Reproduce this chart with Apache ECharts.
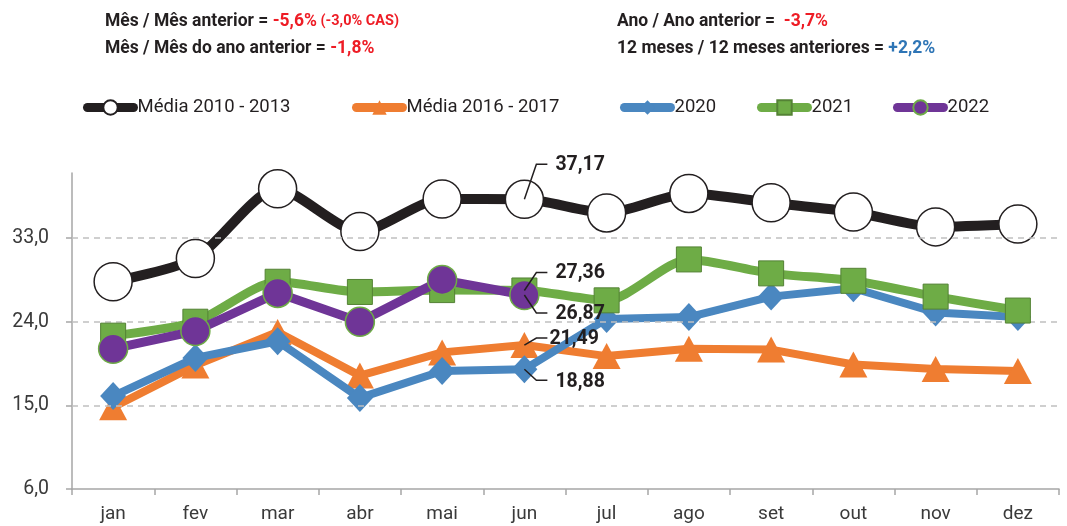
<!DOCTYPE html>
<html><head><meta charset="utf-8">
<script src="https://cdn.jsdelivr.net/npm/echarts@6/dist/echarts.min.js"></script>
<style>html,body{margin:0;padding:0;background:#fff}#c{width:1067px;height:526px}</style>
</head><body><div id="c"></div>
<script>
const months = ['jan','fev','mar','abr','mai','jun','jul','ago','set','out','nov','dez'];
const media1013 = [28.3, 30.8, 38.3, 33.7, 37.2, 37.17, 35.7, 37.8, 36.8, 35.8, 34.2, 34.5];
const media1617 = [14.8, 19.3, 22.9, 18.2, 20.7, 21.49, 20.3, 21.1, 21.0, 19.4, 18.9, 18.7];
const s2020 = [16.0, 20.1, 21.9, 15.8, 18.7, 18.88, 24.3, 24.5, 26.7, 27.6, 25.0, 24.5];
const s2021 = [22.5, 24.0, 28.3, 27.2, 27.4, 27.36, 26.3, 30.7, 29.2, 28.4, 26.7, 25.2];
const s2022 = [21.1, 23.0, 27.1, 24.0, 28.5, 26.87];
const yTicks = [6, 15, 24, 33];
const gridValues = [15, 24, 33];
const seriesNames = ['Média 2010 - 2013', 'Média 2016 - 2017', '2020', '2021', '2022'];
const seriesColors = ['#231f20', '#ef7d31', '#4a87c0', '#6eac46', '#6f3597'];

const FONT = "'Roboto', sans-serif";
const TXT = '#231f20';
const fmt = v => v.toFixed(2).replace('.', ',');

const chart = echarts.init(document.getElementById('c'), null, {renderer: 'canvas'});

const legendLefts = [83, 352, 620, 757, 893];
const legends = seriesNames.map((n, i) => ({
  data: [n], left: legendLefts[i], top: 98, padding: 0, itemWidth: 46, itemHeight: 18, itemGap: 0,
  lineStyle: {width: 9, cap: 'round', color: seriesColors[i]},
  textStyle: {fontFamily: FONT, fontSize: 18.5, color: TXT, padding: [0, 0, 0, -1]}
}));

const option = {
  animation: false,
  textStyle: {fontFamily: FONT},
  grid: {left: 72, right: 8, top: 173, bottom: 37, containLabel: false},
  title: [
    {left: 105, top: 8, padding: 0, text: '{b|Mês / Mês anterior = }{r|-5,6%}{rs| (-3,0% CAS)}\n{b|Mês / Mês do ano anterior = }{r|-1,8%}',
     textStyle: {rich: {
       b: {fontFamily: FONT, fontWeight: 'bold', fontSize: 17.5, color: TXT, lineHeight: 27},
       r: {fontFamily: FONT, fontWeight: 'bold', fontSize: 17.5, color: '#ee1c25', lineHeight: 27},
       rs: {fontFamily: FONT, fontWeight: 'bold', fontSize: 14.5, color: '#ee1c25', lineHeight: 27}
     }}},
    {left: 617, top: 8, padding: 0, text: '{b|Ano / Ano anterior = }{r| -3,7%}\n{b|12 meses / 12 meses anteriores = }{u|+2,2%}',
     textStyle: {rich: {
       b: {fontFamily: FONT, fontWeight: 'bold', fontSize: 17.5, color: TXT, lineHeight: 27},
       r: {fontFamily: FONT, fontWeight: 'bold', fontSize: 17.5, color: '#ee1c25', lineHeight: 27},
       u: {fontFamily: FONT, fontWeight: 'bold', fontSize: 17.5, color: '#2e75b6', lineHeight: 27}
     }}}
  ],
  legend: legends,
  xAxis: {
    type: 'category', data: months, boundaryGap: true,
    axisLine: {lineStyle: {color: '#a6a6a6', width: 1.5}},
    axisTick: {show: true, length: 6, lineStyle: {color: '#a6a6a6', width: 1.5}},
    axisLabel: {fontFamily: FONT, fontSize: 19, color: '#3a3a3a', margin: 16}
  },
  yAxis: {
    type: 'value', min: 6, max: 40, interval: 9,
    axisLine: {show: true, lineStyle: {color: '#a6a6a6', width: 1.5}},
    axisTick: {show: true, length: 6, customValues: yTicks, lineStyle: {color: '#a6a6a6', width: 1.5}},
    axisLabel: {fontFamily: FONT, fontSize: 19.5, color: '#3a3a3a', margin: 23, customValues: yTicks,
      formatter: v => v.toFixed(1).replace('.', ',')},
    splitLine: {show: false}
  },
  series: [
    {name: seriesNames[0], type: 'line', data: media1013, smooth: 0.25, z: 2,
     lineStyle: {color: seriesColors[0], width: 10, cap: 'round'},
     symbol: 'circle', symbolSize: 38,
     itemStyle: {color: '#ffffff', borderColor: '#231f20', borderWidth: 1.5},
     markLine: {silent: true, symbol: 'none', label: {show: false},
       lineStyle: {color: '#c0c0c0', type: [6, 5], width: 1.5},
       data: gridValues.map(v => ({yAxis: v}))}},
    {name: seriesNames[1], type: 'line', data: media1617, z: 3,
     lineStyle: {color: seriesColors[1], width: 8, cap: 'round'},
     symbol: 'triangle', symbolSize: [28, 26],
     itemStyle: {color: seriesColors[1], borderWidth: 0}},
    {name: seriesNames[2], type: 'line', data: s2020, z: 4,
     lineStyle: {color: seriesColors[2], width: 8, cap: 'round'},
     symbol: 'diamond', symbolSize: [26, 28],
     itemStyle: {color: seriesColors[2], borderWidth: 0}},
    {name: seriesNames[3], type: 'line', data: s2021, smooth: 0.25, z: 5,
     lineStyle: {color: seriesColors[3], width: 9, cap: 'round'},
     symbol: 'rect', symbolSize: 25,
     itemStyle: {color: seriesColors[3], borderColor: '#548235', borderWidth: 1}},
    {name: seriesNames[4], type: 'line', data: s2022, z: 6,
     lineStyle: {color: seriesColors[4], width: 9, cap: 'round'},
     symbol: 'circle', symbolSize: 29,
     itemStyle: {color: seriesColors[4], borderColor: '#6eac46', borderWidth: 1.5}}
  ]
};
chart.setOption(option);

// annotations at jun
const annIdx = 5;
const annots = [
  {data: media1013, dy: -35, tx: 31, ty: -34},
  {data: s2021, dy: -18, tx: 31, ty: -17},
  {data: s2022, dy: 18, tx: 31, ty: 19},
  {data: media1617, dy: -7, tx: 25, ty: -6},
  {data: s2020, dy: 11, tx: 31, ty: 13}
];
const graphics = [];
annots.forEach(a => {
  const p = chart.convertToPixel({xAxisIndex: 0, yAxisIndex: 0}, [annIdx, a.data[annIdx]]);
  graphics.push({type: 'polyline', z: 100, silent: true,
    shape: {points: [[p[0], p[1]], [p[0] + 12, p[1] + a.dy], [p[0] + 23, p[1] + a.dy]]},
    style: {stroke: '#231f20', lineWidth: 1.5, fill: null}});
  graphics.push({type: 'text', z: 100, silent: true, x: p[0] + a.tx, y: p[1] + a.ty,
    style: {text: fmt(a.data[annIdx]), fontFamily: FONT, fontWeight: 'bold', fontSize: 19.5,
      fill: '#231f20', verticalAlign: 'middle', align: 'left'}});
});
chart.setOption({graphic: graphics});
</script></body></html>
